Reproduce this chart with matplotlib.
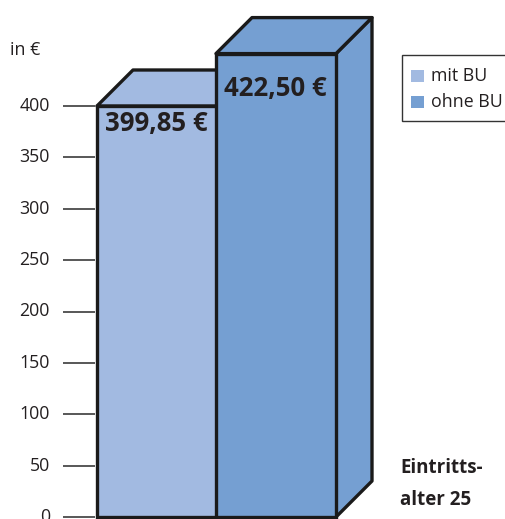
import numpy as np
import matplotlib
matplotlib.use("Agg")
import matplotlib.pyplot as plt
from matplotlib.patches import Polygon, Rectangle

# data
series = ["mit BU", "ohne BU"]
labels = ["399,85 €", "422,50 €"]
# drawn bar heights on the value axis (the picture does not draw them to scale)
heights = [400, 451]
colors = ["#a2bae1", "#759fd2"]
yticks = [0, 50, 100, 150, 200, 250, 300, 350, 400]
unit_label = "in €"
group_label = "Eintritts-\nalter 25"

plt.rcParams["font.family"] = ["Open Sans", "DejaVu Sans"]

W, H = 506, 519
px = 411 / 400.0          # pixels per value unit
y_bottom = 517            # pixel row of value 0

fig = plt.figure(figsize=(W / 100, H / 100), dpi=100)
ax = fig.add_axes([0, 0, 1, 1])
ax.set_xlim(0, W)
ax.set_ylim(-(H - y_bottom) / px, y_bottom / px)
ax.axis("off")

def yv(pix):
    # pixel row -> value
    return (y_bottom - pix) / px

# bar geometry in pixels
lefts = [97, 216]
width = 120
depth_x = 36
depth_y = 36 / px
label_drop = [18, 35]     # label centre below bar top, pixels

for i in range(len(heights)):
    x0 = lefts[i]
    x1 = x0 + width
    h = heights[i]
    top = Polygon([(x0, h), (x0 + depth_x, h + depth_y), (x1 + depth_x, h + depth_y), (x1, h)],
                  closed=True, facecolor=colors[i], edgecolor="#1a1a1a", lw=2.4, joinstyle="round")
    side = Polygon([(x1, 0), (x1, h), (x1 + depth_x, h + depth_y), (x1 + depth_x, depth_y)],
                   closed=True, facecolor=colors[i], edgecolor="#1a1a1a", lw=2.4, joinstyle="round")
    ax.add_patch(side)
    ax.add_patch(top)
    ax.bar(x0, h, width=width, align="edge", color=colors[i], edgecolor="#1a1a1a", lw=2.4, zorder=3)
    ax.text(x0 + 8, h - label_drop[i] / px, labels[i], fontsize=18.5, fontweight="bold",
            color="#231f20", ha="left", va="center", zorder=4)

# value axis: short tick lines and labels
for t in yticks:
    ax.hlines(t, 63, 95, color="#4a4a4a", lw=1.3)
    ax.text(50, t, str(t), fontsize=12.8, ha="right", va="center", color="#231f20")
ax.text(10, yv(50), unit_label, fontsize=12.8, ha="left", va="center", color="#231f20")

# legend box
ax.add_patch(Rectangle((402, yv(121)), 120, yv(55) - yv(121), facecolor="white",
                       edgecolor="#333333", lw=1.0, clip_on=True))
for k, (name, c) in enumerate(zip(series, colors)):
    yc = yv(76 + 26 * k)
    ax.add_patch(Rectangle((411, yc - 6 / px), 13, 12 / px, facecolor=c, edgecolor="none"))
    ax.text(431, yc, name, fontsize=12.8, ha="left", va="center", color="#231f20")

# group label
ax.text(400, yv(484), group_label, fontsize=13.5, fontweight="bold", ha="left", va="center",
        color="#231f20", linespacing=1.75)

fig.savefig("out.png", dpi=100)
